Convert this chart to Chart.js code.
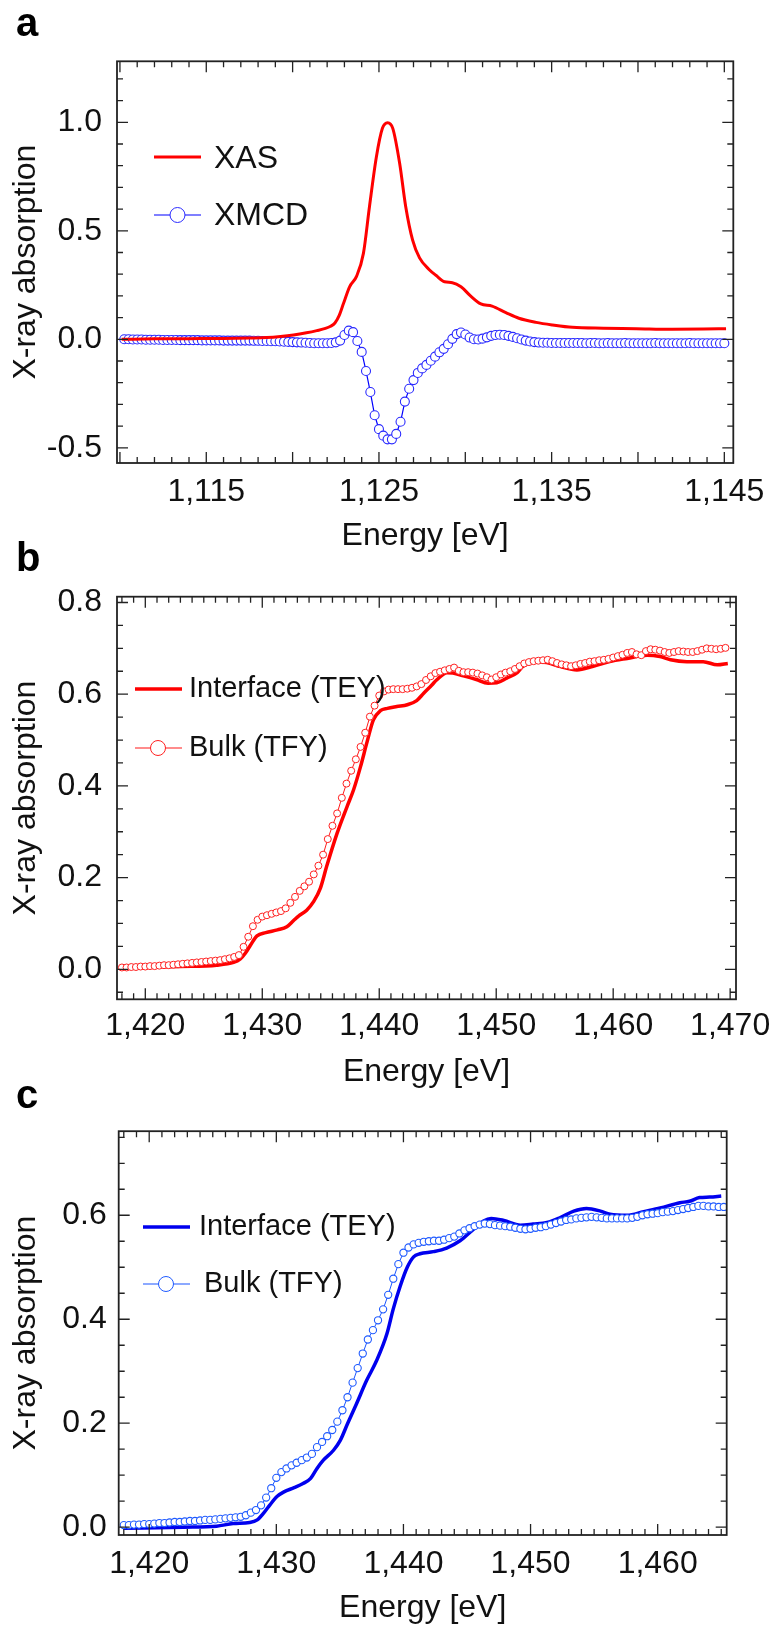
<!DOCTYPE html>
<html>
<head>
<meta charset="utf-8">
<title>XAS / XMCD spectra</title>
<script src="https://cdn.jsdelivr.net/npm/chart.js@4.4.1/dist/chart.umd.min.js"></script>
<style>
  body { margin: 0; background: #fff; }
  #page { position: relative; width: 779px; height: 1631px; font-family: 'Liberation Sans', Arial, sans-serif; }
  .panel { position: absolute; left: 0; width: 779px; }
  .tag { position: absolute; font-weight: bold; font-size: 40px; line-height: 1; color: #000; }
</style>
</head>
<body>
<div id="page">
  <div class="panel" style="top:0;height:560px"><canvas id="chart-a"></canvas></div>
  <div class="panel" style="top:560px;height:540px"><canvas id="chart-b"></canvas></div>
  <div class="panel" style="top:1100px;height:531px"><canvas id="chart-c"></canvas></div>
  <div class="tag" style="left:16px;top:2px">a</div>
  <div class="tag" style="left:16px;top:537px">b</div>
  <div class="tag" style="left:16px;top:1074px">c</div>
</div>
<script>
// ---- panel a : XAS + XMCD ----
const xasEnergy = [1110.1, 1112, 1114, 1116, 1117.5, 1118.5, 1119.3, 1120.05, 1120.8, 1121.4,
  1121.9, 1122.2, 1122.45, 1122.7, 1122.95, 1123.3, 1123.7, 1124.1, 1124.45, 1124.85,
  1125.2, 1125.5, 1125.8, 1126.2, 1126.55, 1126.95, 1127.35, 1127.9, 1128.3, 1128.8,
  1129.25, 1129.75, 1130.3, 1130.9, 1131.55, 1132.35, 1133.1, 1134.1, 1135.05, 1136.2,
  1138.0, 1139.9, 1141.9, 1143.8, 1145.1];
const xasValue = [0.000, 0.002, 0.003, 0.004, 0.006, 0.008, 0.013, 0.020, 0.030, 0.040,
  0.050, 0.060, 0.075, 0.110, 0.166, 0.242, 0.290, 0.396, 0.611, 0.840,
  0.972, 0.998, 0.972, 0.810, 0.611, 0.457, 0.375, 0.322, 0.295, 0.265,
  0.261, 0.242, 0.200, 0.163, 0.153, 0.123, 0.097, 0.078, 0.066, 0.055,
  0.051, 0.049, 0.046, 0.047, 0.049];

const xmcdStart = 1110.25, xmcdStep = 0.25;
const xmcdValue = [
  0.000, 0.000, -0.001, -0.001, -0.001, -0.002, -0.002, -0.002, -0.002, -0.003,
  -0.003, -0.003, -0.003, -0.004, -0.004, -0.004, -0.004, -0.004, -0.005, -0.005,
  -0.005, -0.005, -0.005, -0.006, -0.006, -0.006, -0.006, -0.006, -0.006, -0.006,
  -0.007, -0.007, -0.008, -0.008, -0.009, -0.009, -0.010, -0.011, -0.012, -0.013,
  -0.014, -0.015, -0.016, -0.017, -0.018, -0.018, -0.018, -0.018, -0.017, -0.014,
  -0.006, 0.020, 0.040, 0.033, -0.008, -0.058, -0.146, -0.243, -0.350, -0.414,
  -0.444, -0.461, -0.461, -0.436, -0.380, -0.287, -0.228, -0.188, -0.155, -0.134,
  -0.118, -0.099, -0.080, -0.060, -0.044, -0.023, 0.002, 0.024, 0.031, 0.022,
  0.008, 0.000, -0.001, 0.003, 0.009, 0.016, 0.020, 0.021, 0.020, 0.016,
  0.011, 0.005, -0.001, -0.006, -0.010, -0.013, -0.015, -0.016, -0.016,
  -0.017, -0.017, -0.017, -0.017, -0.017, -0.017, -0.017, -0.017, -0.018, -0.017,
  -0.017, -0.018, -0.018, -0.017, -0.018, -0.018, -0.018, -0.017, -0.018, -0.018,
  -0.018, -0.018, -0.018, -0.018, -0.017, -0.018, -0.018, -0.018, -0.018, -0.018,
  -0.018, -0.018, -0.017, -0.018, -0.018, -0.018, -0.018, -0.018, -0.018, -0.018, -0.018];

const aXTicks = [1115, 1125, 1135, 1145];
const aYTicks = [-0.5, 0, 0.5, 1.0];

// ---- panel b : red, interface vs bulk ----
const bTeyEnergy = [1418.0, 1420, 1423, 1426.1, 1427.55, 1428.1, 1428.55, 1429.0, 1429.55, 1430.3,
  1431.3, 1432.1, 1432.7, 1433.1, 1433.8, 1434.4, 1434.97, 1435.5, 1436.4, 1437.25,
  1437.8, 1438.4, 1438.96, 1439.5, 1440.1, 1440.7, 1441.5, 1442.4, 1443.2, 1443.8,
  1444.5, 1444.9, 1445.8, 1446.3, 1447.2, 1448.3, 1449.3, 1450.05, 1450.9, 1451.8,
  1452.3, 1453.2, 1454.3, 1455.5, 1456.9, 1458.3, 1459.7, 1461.2, 1462.9, 1464.0,
  1464.9, 1466.3, 1467.7, 1468.9, 1469.8];
const bTeyValue = [0.003, 0.004, 0.006, 0.009, 0.015, 0.022, 0.035, 0.053, 0.073, 0.080,
  0.086, 0.093, 0.107, 0.116, 0.129, 0.148, 0.177, 0.224, 0.297, 0.355,
  0.391, 0.442, 0.496, 0.544, 0.564, 0.569, 0.573, 0.577, 0.586, 0.602,
  0.620, 0.631, 0.647, 0.646, 0.640, 0.632, 0.624, 0.625, 0.635, 0.647,
  0.661, 0.671, 0.669, 0.660, 0.653, 0.661, 0.671, 0.678, 0.685, 0.682,
  0.675, 0.671, 0.671, 0.664, 0.667];

const bTfyStart = 1418.0, bTfyStep = 0.4;
const bTfyValue = [
  0.004, 0.004, 0.005, 0.005, 0.006, 0.006, 0.007, 0.007, 0.008, 0.009,
  0.009, 0.010, 0.011, 0.012, 0.013, 0.014, 0.015, 0.016, 0.017, 0.018,
  0.019, 0.020, 0.022, 0.024, 0.027, 0.031, 0.049, 0.071, 0.094, 0.108,
  0.115, 0.118, 0.121, 0.124, 0.127, 0.133, 0.145, 0.158, 0.171, 0.181,
  0.191, 0.207, 0.226, 0.250, 0.284, 0.313, 0.340, 0.374, 0.405, 0.433,
  0.458, 0.485, 0.516, 0.551, 0.575, 0.597, 0.606, 0.610, 0.611, 0.611,
  0.611, 0.612, 0.614, 0.617, 0.622, 0.631, 0.639, 0.646, 0.649, 0.652,
  0.655, 0.658, 0.651, 0.648, 0.648, 0.647, 0.645, 0.641, 0.637, 0.632,
  0.637, 0.643, 0.647, 0.650, 0.655, 0.661, 0.667, 0.670, 0.672, 0.673,
  0.674, 0.675, 0.672, 0.668, 0.665, 0.663, 0.661, 0.663, 0.666, 0.668,
  0.671, 0.672, 0.674, 0.675, 0.677, 0.680, 0.683, 0.686, 0.690, 0.692,
  0.687, 0.685, 0.694, 0.698, 0.697, 0.695, 0.692, 0.690, 0.692, 0.694,
  0.693, 0.692, 0.692, 0.694, 0.697, 0.700, 0.699, 0.698, 0.699, 0.701];

const bXTicks = [1420, 1430, 1440, 1450, 1460, 1470];
const bYTicks = [0, 0.2, 0.4, 0.6, 0.8];

// ---- panel c : blue, interface vs bulk ----
const cTeyEnergy = [1418.0, 1422.7, 1425.3, 1426.6, 1427.9, 1428.5, 1429.0, 1429.5, 1430.05, 1430.6,
  1431.4, 1432.1, 1432.7, 1433.2, 1433.7, 1434.5, 1435.03, 1435.6, 1436.3, 1437.1,
  1437.9, 1438.7, 1439.2, 1439.75, 1440.3, 1440.8, 1441.3, 1442.35, 1443.4, 1444.45,
  1445.5, 1446.3, 1446.9, 1447.9, 1449.2, 1450.2, 1451.3, 1452.3, 1453.4, 1454.4,
  1455.5, 1456.25, 1457.6, 1458.9, 1460.2, 1461.75, 1462.5, 1463.3, 1464.1, 1465.0];
const cTeyValue = [-0.002, 0.000, 0.002, 0.007, 0.009, 0.014, 0.027, 0.043, 0.059, 0.068,
  0.076, 0.084, 0.094, 0.113, 0.129, 0.148, 0.167, 0.199, 0.237, 0.282,
  0.321, 0.372, 0.420, 0.464, 0.500, 0.520, 0.526, 0.530, 0.537, 0.551,
  0.573, 0.589, 0.594, 0.590, 0.581, 0.583, 0.586, 0.595, 0.608, 0.613,
  0.608, 0.602, 0.600, 0.607, 0.614, 0.624, 0.627, 0.634, 0.635, 0.637];

const cTfyStart = 1418.0, cTfyStep = 0.4;
const cTfyValue = [
  0.004, 0.004, 0.005, 0.005, 0.006, 0.006, 0.007, 0.008, 0.008, 0.009,
  0.010, 0.010, 0.011, 0.012, 0.012, 0.013, 0.014, 0.014, 0.015, 0.016,
  0.017, 0.018, 0.019, 0.020, 0.023, 0.028, 0.033, 0.042, 0.057, 0.075,
  0.095, 0.106, 0.113, 0.119, 0.124, 0.129, 0.134, 0.141, 0.154, 0.164,
  0.175, 0.187, 0.203, 0.225, 0.250, 0.278, 0.306, 0.334, 0.361, 0.379,
  0.398, 0.419, 0.447, 0.478, 0.506, 0.528, 0.538, 0.544, 0.547, 0.549,
  0.550, 0.551, 0.551, 0.553, 0.556, 0.559, 0.565, 0.571, 0.575, 0.579,
  0.582, 0.584, 0.583, 0.581, 0.580, 0.579, 0.578, 0.576, 0.574, 0.573,
  0.574, 0.576, 0.577, 0.579, 0.582, 0.585, 0.588, 0.591, 0.592, 0.594,
  0.595, 0.596, 0.597, 0.596, 0.595, 0.594, 0.594, 0.594, 0.594, 0.594,
  0.595, 0.597, 0.600, 0.602, 0.603, 0.604, 0.606, 0.607, 0.608, 0.610,
  0.612, 0.614, 0.616, 0.618, 0.618, 0.617, 0.617, 0.616, 0.616];

const cXTicks = [1420, 1430, 1440, 1450, 1460];
const cYTicks = [0, 0.2, 0.4, 0.6];

// energy sampling of the marker series (evenly spaced scans)
const grid = (start, step, n) => Array.from({length: n}, (_, i) => +(start + i * step).toFixed(2));
const pts = (xs, ys) => ys.map((y, i) => ({x: xs[i], y: y}));

const FONT = "'Liberation Sans', Arial, Helvetica, sans-serif";
Chart.defaults.font.family = FONT;
Chart.defaults.color = '#111';

// inward ticks on all four sides plus the box
const frameTicks = {
  id: 'frameTicks',
  afterDatasetsDraw(chart, args, o) {
    const {ctx, chartArea: {left, right, top, bottom}, scales: {x, y}} = chart;
    const isMajor = (v, m) => Math.abs(v / m - Math.round(v / m)) < 1e-6;
    ctx.save();
    ctx.strokeStyle = '#222';
    ctx.lineWidth = 1.3;
    ctx.beginPath();
    for (let k = Math.ceil(x.min / o.xMinor - 1e-9); k * o.xMinor <= x.max + 1e-9; k++) {
      const v = k * o.xMinor, px = x.getPixelForValue(v);
      const len = isMajor(v, o.xMajor) ? 11 : 6;
      ctx.moveTo(px, bottom); ctx.lineTo(px, bottom - len);
      ctx.moveTo(px, top); ctx.lineTo(px, top + len);
    }
    for (let k = Math.ceil(y.min / o.yMinor - 1e-9); k * o.yMinor <= y.max + 1e-9; k++) {
      const v = k * o.yMinor, py = y.getPixelForValue(v);
      const len = isMajor(v, o.yMajor) ? 11 : 6;
      ctx.moveTo(left, py); ctx.lineTo(left + len, py);
      ctx.moveTo(right, py); ctx.lineTo(right - len, py);
    }
    ctx.stroke();
    ctx.lineWidth = 1.8;
    ctx.strokeRect(left, top, right - left, bottom - top);
    ctx.restore();
  }
};

// legend drawn inside the plot box
const insideLegend = {
  id: 'insideLegend',
  afterDraw(chart, args, o) {
    const {ctx} = chart;
    ctx.save();
    ctx.font = o.size + 'px ' + FONT;
    ctx.textBaseline = 'middle';
    ctx.textAlign = 'left';
    o.items.forEach(it => {
      const ds = chart.data.datasets[it.index];
      const marker = ds.pointRadius > 0;
      ctx.strokeStyle = ds.borderColor;
      ctx.lineWidth = marker ? 1.2 : ds.borderWidth;
      ctx.beginPath();
      ctx.moveTo(it.x0, it.y);
      ctx.lineTo(it.x1, it.y);
      ctx.stroke();
      if (marker) {
        ctx.beginPath();
        ctx.arc(it.cx, it.y, 7.5, 0, Math.PI * 2);
        ctx.fillStyle = '#fff';
        ctx.fill();
        ctx.lineWidth = 1;
        ctx.strokeStyle = ds.pointBorderColor;
        ctx.stroke();
      }
      ctx.fillStyle = '#111';
      ctx.fillText(ds.label, it.tx, it.y + (it.dy || 0));
    });
    ctx.restore();
  }
};

function makeOptions(p) {
  return {
    responsive: true,
    maintainAspectRatio: false,
    animation: false,
    events: [],
    layout: {padding: p.padding},
    plugins: {
      legend: {display: false},
      tooltip: {enabled: false},
      frameTicks: p.frame,
      insideLegend: p.legend
    },
    scales: {
      x: {
        type: 'linear',
        min: p.xMin,
        max: p.xMax,
        grid: {display: false, drawTicks: false},
        border: {display: false},
        afterBuildTicks: s => { s.ticks = p.xTicks.map(v => ({value: v})); },
        afterFit: s => { s.height = p.xHeight; },
        ticks: {
          autoSkip: false,
          maxRotation: 0,
          padding: p.xPad,
          color: '#111',
          font: {size: 32},
          callback: v => Number(v).toLocaleString('en-US')
        },
        title: {display: true, text: 'Energy [eV]', color: '#111', font: {size: 32}, padding: {top: 0, bottom: p.xTitlePad}}
      },
      y: {
        min: p.yMin,
        max: p.yMax,
        grid: {display: false, drawTicks: false},
        border: {display: false},
        afterBuildTicks: s => { s.ticks = p.yTicks.map(v => ({value: v})); },
        afterFit: s => { s.width = p.yWidth; },
        ticks: {
          padding: p.yPad,
          color: '#111',
          font: {size: 32},
          callback: v => Number(v).toFixed(1)
        },
        title: {display: true, text: 'X-ray absorption', color: '#111', font: {size: 32}, padding: {top: 7, bottom: 0}}
      }
    }
  };
}

const chartA = new Chart(document.getElementById('chart-a'), {
  type: 'line',
  data: {
    datasets: [{
      label: 'XAS',
      data: pts(xasEnergy, xasValue),
      borderColor: '#ff0000',
      borderWidth: 3,
      pointRadius: 0,
      cubicInterpolationMode: 'monotone'
    }, {
      label: 'XMCD',
      data: pts(grid(xmcdStart, xmcdStep, xmcdValue.length), xmcdValue),
      borderColor: '#0000ff',
      borderWidth: 1.2,
      pointRadius: 4.5,
      pointBorderWidth: 1.1,
      pointBorderColor: '#2a2aff',
      pointBackgroundColor: '#ffffff',
      tension: 0
    }]
  },
  options: makeOptions({
    padding: {left: 0, right: 45.7, top: 61.3, bottom: 0},
    xMin: 1109.83, xMax: 1145.52, yMin: -0.57, yMax: 1.281,
    xTicks: aXTicks, yTicks: aYTicks,
    xHeight: 97, yWidth: 117, xPad: 10, yPad: 15, xTitlePad: 5,
    frame: {xMinor: 1, xMajor: 5, yMinor: 0.1, yMajor: 0.5},
    legend: {size: 32, items: [
      {index: 0, x0: 154, x1: 201, y: 157, tx: 214, dy: 2},
      {index: 1, x0: 154, x1: 201, cx: 177.5, y: 215, tx: 214, dy: 1}
    ]}
  }),
  plugins: [frameTicks, insideLegend]
});

const chartB = new Chart(document.getElementById('chart-b'), {
  type: 'line',
  data: {
    datasets: [{
      label: 'Bulk (TFY)',
      data: pts(grid(bTfyStart, bTfyStep, bTfyValue.length), bTfyValue),
      borderColor: '#ff1a1a',
      borderWidth: 1,
      pointRadius: 3.5,
      pointBorderWidth: 1,
      pointBorderColor: '#ff2020',
      pointBackgroundColor: '#ffffff',
      tension: 0
    }, {
      label: 'Interface (TEY)',
      data: pts(bTeyEnergy, bTeyValue),
      borderColor: '#ff0000',
      borderWidth: 3.5,
      pointRadius: 0,
      cubicInterpolationMode: 'monotone'
    }]
  },
  options: makeOptions({
    padding: {left: 0, right: 43, top: 36.7, bottom: 0},
    xMin: 1417.58, xMax: 1470.5, yMin: -0.0654, yMax: 0.8126,
    xTicks: bXTicks, yTicks: bYTicks,
    xHeight: 100.7, yWidth: 117, xPad: 8, yPad: 15, xTitlePad: 9,
    frame: {xMinor: 1, xMajor: 10, yMinor: 0.05, yMajor: 0.2},
    legend: {size: 29, items: [
      {index: 1, x0: 135, x1: 182, y: 129, tx: 189},
      {index: 0, x0: 135, x1: 182, cx: 158, y: 188, tx: 189}
    ]}
  }),
  plugins: [frameTicks, insideLegend]
});

const chartC = new Chart(document.getElementById('chart-c'), {
  type: 'line',
  data: {
    datasets: [{
      label: 'Bulk (TFY)',
      data: pts(grid(cTfyStart, cTfyStep, cTfyValue.length), cTfyValue),
      borderColor: '#1a55ff',
      borderWidth: 1,
      pointRadius: 3.6,
      pointBorderWidth: 1.1,
      pointBorderColor: '#1f5aff',
      pointBackgroundColor: '#ffffff',
      tension: 0
    }, {
      label: 'Interface (TEY)',
      data: pts(cTeyEnergy, cTeyValue),
      borderColor: '#0000ee',
      borderWidth: 3.5,
      pointRadius: 0,
      cubicInterpolationMode: 'monotone'
    }]
  },
  options: makeOptions({
    padding: {left: 0, right: 52.3, top: 30, bottom: 0},
    xMin: 1417.6, xMax: 1465.43, yMin: -0.015, yMax: 0.7617,
    xTicks: cXTicks, yTicks: cYTicks,
    xHeight: 96, yWidth: 118.7, xPad: 10, yPad: 12, xTitlePad: 4,
    frame: {xMinor: 1, xMajor: 10, yMinor: 0.05, yMajor: 0.2},
    legend: {size: 29, items: [
      {index: 1, x0: 143, x1: 190, y: 127, tx: 199},
      {index: 0, x0: 143, x1: 190, cx: 166, y: 184, tx: 204}
    ]}
  }),
  plugins: [frameTicks, insideLegend]
});
</script>
</body>
</html>
